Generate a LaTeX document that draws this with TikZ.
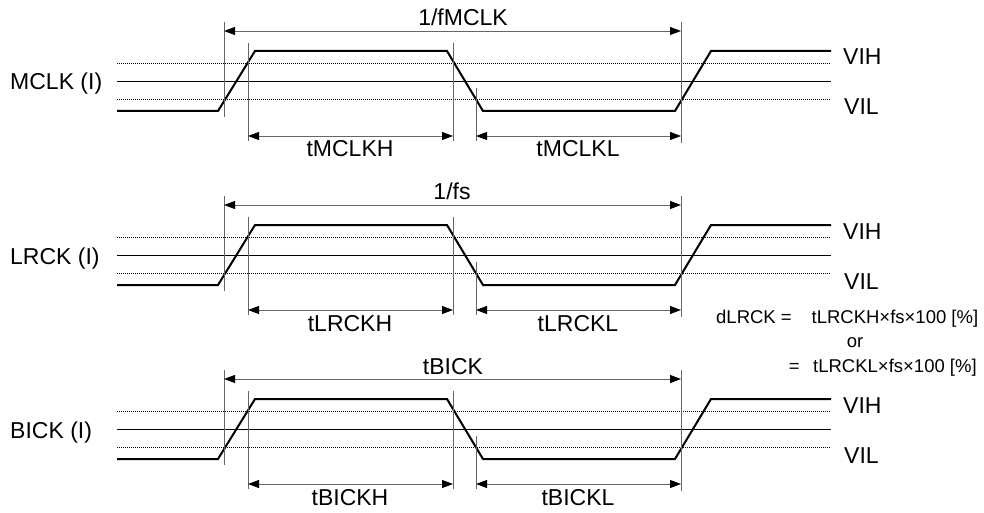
\documentclass[tikz,border=0pt]{standalone}
\usepackage{fontspec}
\setmainfont{Liberation Sans}
\usetikzlibrary{arrows.meta}

\tikzset{
  level/.style={black, line width=0.8pt},
  thresh/.style={black, line width=0.7pt, dash pattern=on 1pt off 1pt},
  wave/.style={black, line width=2pt, line join=miter},
  guide/.style={black!60, line width=0.9pt},
  tip/.style={Triangle[length=11pt,width=8pt,color=black]},
  dimline/.style={guide, {Triangle[length=11pt,width=8pt,color=black]}-{Triangle[length=11pt,width=8pt,color=black]}},
  lbl/.style={font=\fontsize{23}{27}\selectfont, inner sep=0pt},
  note/.style={font=\fontsize{18.5}{22}\selectfont, inner sep=0pt}
}

\begin{document}
\begin{tikzpicture}[x=1pt,y=-1pt]
  \useasboundingbox (0,0) rectangle (984,513);

  \foreach \off/\sig/\per/\px/\hi/\lo in {0/MCLK/{1/fMCLK}/463/tMCLKH/tMCLKL,
      174/LRCK/{1/fs}/452/tLRCKH/tLRCKL, 348/BICK/tBICK/453/tBICKH/tBICKL}{
    \begin{scope}[yshift=-\off pt]
      % VIH / mid / VIL levels
      \draw[thresh] (117,63) -- (831,63);
      \draw[level] (117,81) -- (831,81);
      \draw[thresh] (117,99) -- (831,99);
      % clock
      \draw[wave] (117,111) -- (218,111) -- (255,51) -- (447,51)
        -- (483,111) -- (675,111) -- (711,51) -- (831,51);
      % guides
      \draw[guide] (224,22) -- (224,117);
      \draw[guide] (248,43) -- (248,141);
      \draw[guide] (453,43) -- (453,141);
      \draw[guide] (476,88) -- (476,141);
      \draw[guide] (681,22) -- (681,143);
      % dimensions
      \coordinate (\sig-p0) at (224,31);
      \coordinate (\sig-p1) at (681,31);
      \coordinate (\sig-h0) at (248,136);
      \coordinate (\sig-h1) at (453,136);
      \coordinate (\sig-l0) at (476,136);
      \coordinate (\sig-l1) at (681,136);
      \draw[dimline] (\sig-p0) -- (\sig-p1);
      \draw[dimline] (\sig-h0) -- (\sig-h1);
      \draw[dimline] (\sig-l0) -- (\sig-l1);
      % labels
      \node[lbl, anchor=base west] (\sig-name) at (10,90) {\sig\ (I)};
      \node[lbl, anchor=base west] (\sig-vih) at (843,65) {VIH};
      \node[lbl, anchor=base west] (\sig-vil) at (844,115) {VIL};
      \node[lbl, anchor=base] (\sig-per) at (\px,26) {\per};
      \node[lbl, anchor=base] (\sig-hi) at (350,157) {\hi};
      \node[lbl, anchor=base] (\sig-lo) at (578,157) {\lo};
    \end{scope}
  }

  % duty
  \node[note, anchor=base west] (duty1) at (716,323) {dLRCK\hspace{5pt}=\hspace{20pt}tLRCKH×fs×100 [\%]};
  \node[note, anchor=base] (duty2) at (855,347) {or};
  \node[note, anchor=base west] (duty3) at (788.7,372) {=\hspace{13.5pt}tLRCKL×fs×100 [\%]};
\end{tikzpicture}
\end{document}
